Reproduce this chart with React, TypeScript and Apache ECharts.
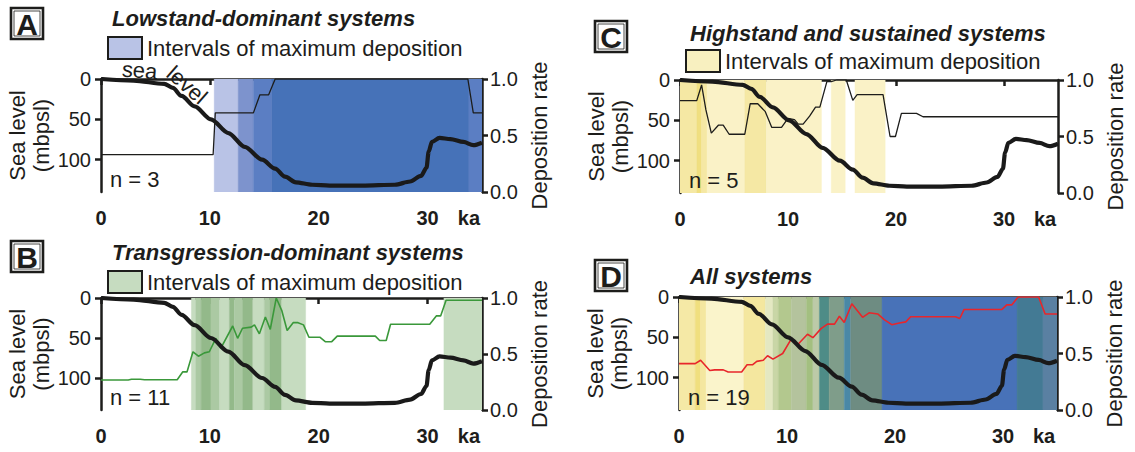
import React, { useEffect, useRef } from "react";
import * as echarts from "echarts";

// ---------- data ----------
const xTicks = [0, 10, 20, 30];
const seaTicks = [0, 50, 100];
const titles = [
  "Lowstand-dominant systems",
  "Transgression-dominant systems",
  "Highstand and sustained systems",
  "All systems",
];
const panelLetters = ["A", "B", "C", "D"];
const sampleCounts = ["n = 3", "n = 11", "n = 5", "n = 19"];
const legendText = "Intervals of maximum deposition";

// sea level (ka, m below present sea level)
const seaLevel: number[][] = [
  [0, 0], [3, 2], [5.8, 6], [6.6, 11], [7.4, 21], [8.6, 34], [10.1, 50], [11.7, 67],
  [13.2, 84], [14.8, 100], [16, 111], [16.9, 121], [17.9, 128], [19.4, 131], [21, 132],
  [24, 132], [27, 131], [28.4, 127], [29.4, 120], [29.9, 110], [30.1, 90], [30.4, 78],
  [31.1, 73], [32.1, 74.5], [33.3, 78], [34.2, 82], [35, 79],
];

// deposition rates (ka, normalised rate)
const depA: number[][] = [
  [0, 0.33], [10.3, 0.33], [10.5, 0.7], [14.0, 0.7], [14.6, 0.86], [15.4, 0.86],
  [16.0, 1.0], [33.7, 1.0], [34.2, 0.7], [35, 0.7],
];
const depB: number[][] = [
  [0, 0.268], [2.5, 0.268], [2.8, 0.275], [3.6, 0.275], [4.0, 0.27], [7.0, 0.27],
  [7.5, 0.34], [7.9, 0.34], [8.45, 0.52], [8.95, 0.48], [9.5, 0.51], [9.95, 0.52],
  [10.55, 0.64], [11.0, 0.55], [12.1, 0.75], [12.55, 0.64], [13.0, 0.73], [13.8, 0.74],
  [14.1, 0.76], [14.55, 0.68], [15.1, 0.83], [15.55, 0.72], [16.1, 1.0], [16.6, 0.89],
  [17.1, 0.71], [17.65, 0.78], [18.1, 0.78], [18.6, 0.76], [19.1, 0.65], [20.1, 0.65],
  [20.6, 0.61], [21.2, 0.61], [21.7, 0.66], [25.2, 0.66], [25.6, 0.62], [26.2, 0.62],
  [26.6, 0.765], [30.2, 0.765], [30.8, 0.84], [31.2, 0.84], [31.7, 0.98], [35, 0.98],
];
const depC: number[][] = [
  [0, 0.817], [1.55, 0.817], [2.0, 0.956], [2.4, 0.735], [2.9, 0.53], [3.55, 0.6],
  [4.0, 0.6], [4.55, 0.52], [6.0, 0.52], [6.5, 0.79], [7.2, 0.79], [7.9, 0.72],
  [8.5, 0.58], [9.4, 0.58], [10.0, 0.66], [10.6, 0.65], [10.95, 0.61], [11.4, 0.61],
  [12.0, 0.68], [12.55, 0.76], [12.95, 0.76], [13.6, 0.985], [14.0, 0.985], [14.5, 1.0],
  [15.4, 1.0], [16.0, 0.82], [16.4, 0.87], [18.8, 0.87], [19.45, 0.5], [19.95, 0.5],
  [20.5, 0.705], [21.9, 0.705], [22.5, 0.675], [35, 0.675],
];
const depD: number[][] = [
  [0, 0.41], [1.5, 0.41], [2.0, 0.44], [2.85, 0.35], [3.3, 0.355], [4.1, 0.355],
  [4.55, 0.336], [5.8, 0.336], [6.3, 0.4], [6.8, 0.4], [7.2, 0.43], [7.8, 0.44],
  [8.2, 0.48], [8.7, 0.45], [9.6, 0.5], [10.4, 0.63], [11.0, 0.58], [11.9, 0.67],
  [12.4, 0.64], [13.15, 0.72], [13.75, 0.76], [14.4, 0.76], [14.85, 0.83], [15.3, 0.775],
  [16.0, 0.94], [17.0, 0.82], [17.6, 0.86], [18.4, 0.85], [19.0, 0.8], [19.7, 0.755],
  [20.4, 0.77], [21.0, 0.78], [21.45, 0.825], [25.6, 0.825], [26.0, 0.81], [26.4, 0.89],
  [29.9, 0.89], [30.35, 0.93], [30.8, 0.93], [31.4, 1.0], [33.3, 1.0], [33.9, 0.85],
  [35, 0.85],
];

// intervals of maximum deposition: [start ka, end ka, shade index]
const intA: number[][] = [
  [10.4, 12.6, 0], [12.6, 14.0, 1], [14.0, 15.7, 2], [15.7, 33.8, 3], [33.8, 35, 2],
];
const intB: number[][] = [
  [8.3, 8.7, 0], [8.7, 9.2, 1], [9.2, 10.1, 2], [10.1, 10.9, 1], [10.9, 11.8, 0],
  [11.8, 12.25, 2], [12.25, 13.0, 1], [13.0, 13.95, 2], [13.95, 15.0, 0], [15.0, 15.5, 1],
  [15.5, 16.6, 2], [16.6, 18.8, 0], [31.5, 35, 0],
];
const intC: number[][] = [
  [0, 1.55, 1], [1.55, 2.0, 2], [2.0, 2.5, 1], [2.5, 6.0, 0], [6.0, 8.0, 1],
  [8.0, 13.1, 0], [14.0, 15.3, 0], [16.2, 19.0, 0],
];
const intD: number[][] = [
  [0, 1.5, 0], [1.5, 2.0, 1], [2.0, 2.5, 2], [2.5, 6.0, 3], [6.0, 8.0, 4], [8.0, 8.7, 5],
  [8.7, 9.2, 6], [9.2, 10.4, 7], [10.4, 11.8, 8], [11.8, 12.4, 9], [12.4, 13.0, 10],
  [13.0, 13.9, 11], [13.9, 15.3, 12], [15.3, 15.9, 13], [15.9, 18.8, 14], [18.8, 31.3, 15],
  [31.3, 33.7, 16], [33.7, 35, 17],
];

// ---------- styles ----------
const FONT = "'Liberation Sans', Arial, Helvetica, sans-serif";
const INK = "#1d1d1b";
const shadesA = ["#b9c3e6", "#7d93cd", "#5b7ec3", "#4672b8"];
const shadesB = ["#c6dcc0", "#abc9a3", "#93b98a"];
const shadesC = ["#faf2c7", "#f5e8a4", "#f0df80"];
const shadesD = [
  "#f5e9a6", "#f0df7e", "#f4e7a0", "#faf4cb", "#f4e79f", "#e4e8c2", "#c9d6a6", "#b3c88e",
  "#b4c39d", "#a3bf80", "#bccaa8", "#4e8c87", "#7f9d8a", "#4a88a6", "#6e8c82", "#4872b8",
  "#437a94", "#5a80a2",
];

const grids = [
  { left: 101, top: 79, width: 381, height: 113 },
  { left: 101, top: 298, width: 381, height: 112 },
  { left: 680, top: 80, width: 378, height: 113 },
  { left: 679, top: 297, width: 378, height: 113 },
];

// header layout per panel: letter box position, title / legend centre lines
const headers = [
  { boxX: 11, boxY: 8, titleX: 112, titleY: 18, legendY: 48 },
  { boxX: 11, boxY: 241, titleX: 112, titleY: 252, legendY: 282 },
  { boxX: 595, boxY: 21, titleX: 690, titleY: 33, legendY: 61 },
  { boxX: 595, boxY: 260, titleX: 690, titleY: 276, legendY: null },
];

const panels = [
  { dep: depA, ints: intA, shades: shadesA, lineColor: INK, lineWidth: 1.3, legend: "#b9c3e6" },
  { dep: depB, ints: intB, shades: shadesB, lineColor: "#3a983a", lineWidth: 1.6, legend: "#c6dcc0" },
  { dep: depC, ints: intC, shades: shadesC, lineColor: INK, lineWidth: 1.3, legend: "#f8f0c0" },
  { dep: depD, ints: intD, shades: shadesD, lineColor: "#e8262b", lineWidth: 1.6, legend: null },
];

function buildOption() {
  const xAxis: any[] = [];
  const yAxis: any[] = [];
  const series: any[] = [];
  const graphic: any[] = [];

  grids.forEach((g, i) => {
    const p = panels[i];
    const h = headers[i];
    xAxis.push({
      type: "value",
      gridIndex: i,
      min: 0,
      max: 35,
      interval: 10,
      axisLine: { show: true, lineStyle: { color: INK, width: 2.5 } },
      axisTick: { show: true, customValues: xTicks, length: 6, lineStyle: { color: INK, width: 2.5 } },
      axisLabel: {
        customValues: [...xTicks, 33.8],
        formatter: (v: number) => (v === 33.8 ? "ka" : String(v)),
        fontFamily: FONT,
        fontWeight: "bold",
        fontSize: 20,
        color: INK,
        margin: 16,
      },
      splitLine: { show: false },
    });
    yAxis.push({
      type: "value",
      gridIndex: i,
      inverse: true,
      min: 0,
      max: 140,
      interval: 50,
      position: "left",
      name: "Sea level\n(mbpsl)",
      nameLocation: "middle",
      nameRotate: 90,
      nameGap: 44,
      nameTextStyle: { fontFamily: FONT, fontSize: 22, color: INK, lineHeight: 24 },
      axisLine: { show: true, lineStyle: { color: INK, width: 2.5 } },
      axisTick: { show: true, customValues: seaTicks, length: 6, lineStyle: { color: INK, width: 2.5 } },
      axisLabel: { customValues: seaTicks, fontFamily: FONT, fontSize: 20, color: INK, margin: 10 },
      splitLine: { show: false },
    });
    yAxis.push({
      type: "value",
      gridIndex: i,
      min: 0,
      max: 1,
      interval: 0.5,
      position: "right",
      name: "Deposition rate",
      nameLocation: "middle",
      nameRotate: 90,
      nameGap: 46,
      nameTextStyle: { fontFamily: FONT, fontSize: 22, color: INK },
      axisLine: { show: true, lineStyle: { color: INK, width: 2.5 } },
      axisTick: { show: true, length: 6, lineStyle: { color: INK, width: 2.5 } },
      axisLabel: {
        formatter: (v: number) => v.toFixed(1),
        fontFamily: FONT,
        fontSize: 20,
        color: INK,
        margin: 8,
      },
      splitLine: { show: false },
    });

    const shades = p.shades;
    series.push({
      type: "custom",
      name: "intervals" + i,
      xAxisIndex: i,
      yAxisIndex: i * 2 + 1,
      clip: true,
      z: 1,
      silent: true,
      data: p.ints,
      renderItem: (_params: any, api: any) => {
        const s = api.value(0);
        const e = api.value(1);
        const c = shades[api.value(2)];
        const p0 = api.coord([s, 1]);
        const p1 = api.coord([e, 0]);
        return {
          type: "rect",
          shape: { x: p0[0], y: p0[1], width: p1[0] - p0[0], height: p1[1] - p0[1] },
          style: { fill: c, stroke: c, lineWidth: 0.4 },
        };
      },
    });
    series.push({
      type: "line",
      name: "deposition" + i,
      xAxisIndex: i,
      yAxisIndex: i * 2 + 1,
      data: p.dep,
      showSymbol: false,
      z: 3,
      lineStyle: { color: p.lineColor, width: p.lineWidth },
    });
    series.push({
      type: "line",
      name: "sea level" + i,
      xAxisIndex: i,
      yAxisIndex: i * 2,
      data: seaLevel,
      showSymbol: false,
      smooth: 0.3,
      smoothMonotone: "x",
      z: 4,
      lineStyle: { color: "#1a1a1a", width: 4.2 },
    });

    // panel letter box
    graphic.push({
      type: "rect",
      shape: { x: h.boxX, y: h.boxY, width: 32, height: 31 },
      style: { fill: "#fff", stroke: INK, lineWidth: 2.6 },
    });
    graphic.push({
      type: "rect",
      shape: { x: h.boxX + 3, y: h.boxY + 3, width: 26, height: 25 },
      style: { fill: "none", stroke: INK, lineWidth: 0.8 },
    });
    graphic.push({
      type: "text",
      x: h.boxX + 16,
      y: h.boxY + 16.5,
      style: {
        text: panelLetters[i],
        font: `bold 30px ${FONT}`,
        fill: INK,
        align: "center",
        verticalAlign: "middle",
      },
    });
    // title
    graphic.push({
      type: "text",
      x: h.titleX,
      y: h.titleY,
      style: {
        text: titles[i],
        font: `italic bold 22px ${FONT}`,
        fill: INK,
        align: "left",
        verticalAlign: "middle",
      },
    });
    if (p.legend && h.legendY !== null) {
      graphic.push({
        type: "rect",
        shape: { x: h.titleX - 4, y: h.legendY - 11, width: 34, height: 22 },
        style: { fill: p.legend, stroke: INK, lineWidth: 2 },
      });
      graphic.push({
        type: "text",
        x: h.titleX + 35,
        y: h.legendY,
        style: {
          text: legendText,
          font: `22px ${FONT}`,
          fill: INK,
          align: "left",
          verticalAlign: "middle",
        },
      });
    }
    // sample count
    graphic.push({
      type: "text",
      x: g.left + 9,
      y: g.top + g.height - 13,
      z: 10,
      style: {
        text: sampleCounts[i],
        font: `22px ${FONT}`,
        fill: INK,
        align: "left",
        verticalAlign: "middle",
      },
    });
  });

  // curved "sea level" label on panel A
  graphic.push({
    type: "text",
    x: 122,
    y: 69,
    rotation: -0.08,
    z: 10,
    style: { text: "sea", font: `22px ${FONT}`, fill: INK, align: "left", verticalAlign: "middle" },
  });
  graphic.push({
    type: "text",
    x: 170,
    y: 70,
    rotation: -0.72,
    z: 10,
    style: { text: "level", font: `22px ${FONT}`, fill: INK, align: "left", verticalAlign: "middle" },
  });

  return {
    animation: false,
    backgroundColor: "#ffffff",
    textStyle: { fontFamily: FONT },
    grid: grids,
    xAxis,
    yAxis,
    series,
    graphic,
  };
}

export default function App() {
  const ref = useRef<HTMLDivElement>(null);
  useEffect(() => {
    if (!ref.current) return;
    const chart = echarts.init(ref.current, null, { renderer: "svg" });
    chart.setOption(buildOption() as any);
    return () => chart.dispose();
  }, []);
  return (
    <div
      ref={ref}
      style={{ position: "fixed", left: 0, top: 0, width: 1135, height: 452, background: "#fff" }}
    />
  );
}
